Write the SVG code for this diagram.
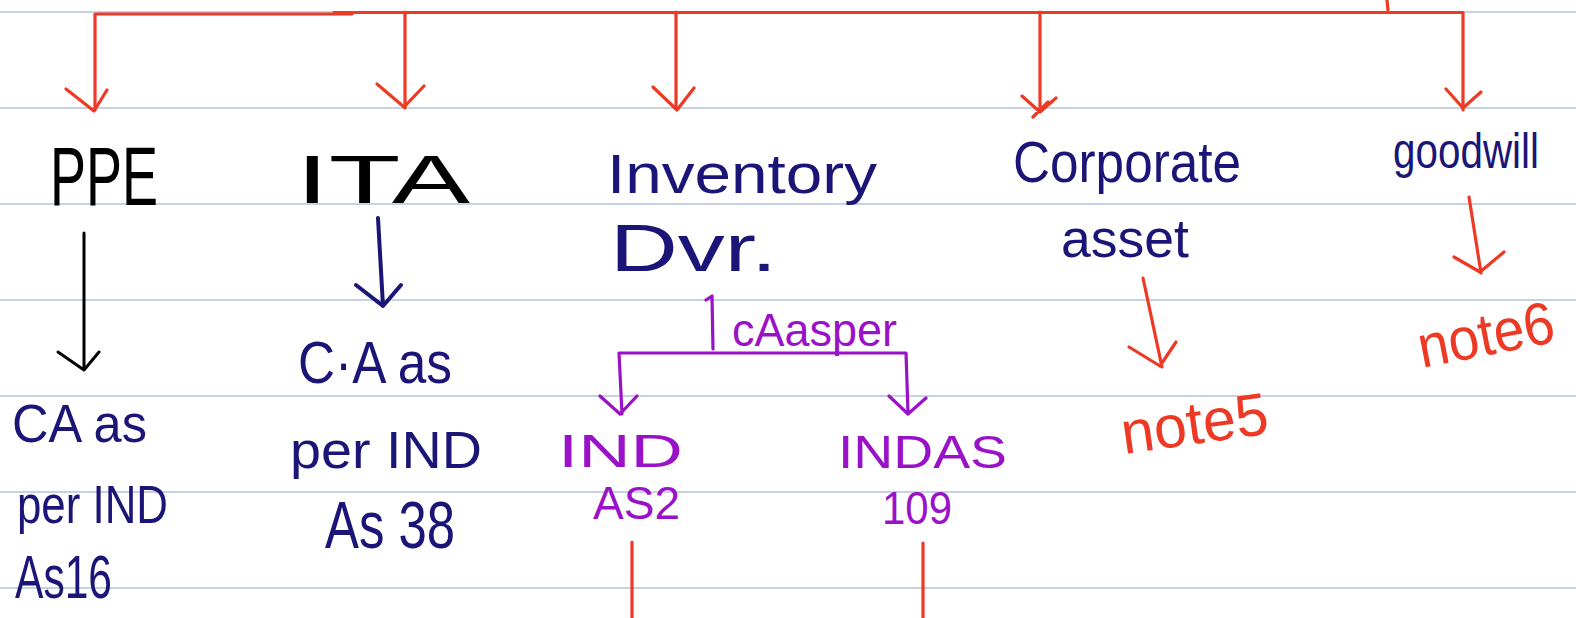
<svg xmlns="http://www.w3.org/2000/svg" width="1576" height="618" viewBox="0 0 1576 618">
<style>
.rule{stroke:#b3c3da;stroke-width:1.6}
.red{stroke:#ee3a24;fill:none;stroke-width:3.2;stroke-linecap:round;stroke-linejoin:round}
.blk{stroke:#000;fill:none;stroke-width:3;stroke-linecap:round;stroke-linejoin:round}
.nav{stroke:#1b1577;fill:none;stroke-width:4;stroke-linecap:round;stroke-linejoin:round}
.pur{stroke:#9a12c8;fill:none;stroke-width:3.2;stroke-linecap:round;stroke-linejoin:round}
text{font-family:"Liberation Sans",Arial,sans-serif}
.tb{fill:#000}
.tn{fill:#1b1577}
.tp{fill:#9a12c8}
.tr{fill:#ee3a24}
</style>
<rect width="1576" height="618" fill="#fff"/>
<g id="paper">
<line class="rule" x1="0" y1="12" x2="1576" y2="12"/>
<line class="rule" x1="0" y1="108" x2="1576" y2="108"/>
<line class="rule" x1="0" y1="204" x2="1576" y2="204"/>
<line class="rule" x1="0" y1="300" x2="1576" y2="300"/>
<line class="rule" x1="0" y1="396" x2="1576" y2="396"/>
<line class="rule" x1="0" y1="492" x2="1576" y2="492"/>
<line class="rule" x1="0" y1="588" x2="1576" y2="588"/>
</g>
<g id="connectors">
<path class="red" d="M95 110 V14 H352 M334 12.5 H1463 V110 M1387 0 L1388 10"/>
<path class="red" d="M405 12 V108 M676 12 V108 M1040 12 V110"/>
<path class="red" d="M66 89 L94 111 L107 90 M377 84 L404 107 L424 86 M653 87 L677 110 L694 88 M1022 96 L1040 112 L1056 98 M1446 89 L1463 108 L1481 92 M1033 117 L1048 102"/>
<path class="blk" d="M84 233 V370 M58 352 L84 370 L99 352"/>
<path class="nav" d="M378 218 L383 306 M356 285 L383 306 L401 285"/>
<path class="pur" d="M706 300 L712 296 L713 349 M619 353 H906 M619 353 L622 414 M906 353 L908 413 M600 396 L620 414 L637 396 M889 396 L908 414 L926 398"/>
<path class="red" d="M632 542 V618 M923 543 V618"/>
<path class="red" d="M1143 278 L1162 367 M1129 347 L1160 366 L1176 342"/>
<path class="red" d="M1469 197 L1481 273 M1454 257 L1480 272 L1504 252"/>
</g>
<g id="node-ppe">
<text class="tb" x="50" y="205" font-size="84" textLength="108" lengthAdjust="spacingAndGlyphs">PPE</text>
</g>
<g id="node-ppe-ca">
<text class="tn" x="12" y="442" font-size="54" textLength="135" lengthAdjust="spacingAndGlyphs">CA as</text>
<text class="tn" x="17" y="523" font-size="54" textLength="151" lengthAdjust="spacingAndGlyphs">per IND</text>
<text class="tn" x="15" y="598" font-size="62" textLength="97" lengthAdjust="spacingAndGlyphs">As16</text>
</g>
<g id="node-ita">
<text class="tb" x="296" y="203" font-size="68" textLength="174" lengthAdjust="spacingAndGlyphs">ITA</text>
</g>
<g id="node-ita-ca">
<text class="tn" x="298" y="383" font-size="60" textLength="154" lengthAdjust="spacingAndGlyphs">C·A as</text>
<text class="tn" x="290" y="468" font-size="52" textLength="192" lengthAdjust="spacingAndGlyphs">per IND</text>
<text class="tn" x="325" y="548" font-size="66" textLength="130" lengthAdjust="spacingAndGlyphs">As 38</text>
</g>
<g id="node-inventory">
<text class="tn" x="607" y="193" font-size="56" textLength="270" lengthAdjust="spacingAndGlyphs">Inventory</text>
<text class="tn" x="610" y="271" font-size="66" textLength="167" lengthAdjust="spacingAndGlyphs">Dvr.</text>
</g>
<g id="label-caasper">
<text class="tp" x="732" y="346" font-size="46" textLength="165" lengthAdjust="spacingAndGlyphs">cAasper</text>
</g>
<g id="node-indas2">
<text class="tp" x="558" y="467" font-size="47" textLength="125" lengthAdjust="spacingAndGlyphs">IND</text>
<text class="tp" x="593" y="519" font-size="47" textLength="87" lengthAdjust="spacingAndGlyphs">AS2</text>
</g>
<g id="node-indas109">
<text class="tp" x="838" y="468" font-size="47" textLength="169" lengthAdjust="spacingAndGlyphs">INDAS</text>
<text class="tp" x="882" y="524" font-size="46" textLength="70" lengthAdjust="spacingAndGlyphs">109</text>
</g>
<g id="node-corporate">
<text class="tn" x="1013" y="182" font-size="58" textLength="228" lengthAdjust="spacingAndGlyphs">Corporate</text>
<text class="tn" x="1061" y="257" font-size="54" textLength="128" lengthAdjust="spacingAndGlyphs">asset</text>
</g>
<g id="node-note5">
<text class="tr" x="1124" y="454" font-size="60" textLength="148" lengthAdjust="spacingAndGlyphs" transform="rotate(-8 1124 454)">note5</text>
</g>
<g id="node-goodwill">
<text class="tn" x="1393" y="168" font-size="50" textLength="146" lengthAdjust="spacingAndGlyphs">goodwill</text>
</g>
<g id="node-note6">
<text class="tr" x="1422" y="368" font-size="60" textLength="138" lengthAdjust="spacingAndGlyphs" transform="rotate(-11 1422 368)">note6</text>
</g>
</svg>
